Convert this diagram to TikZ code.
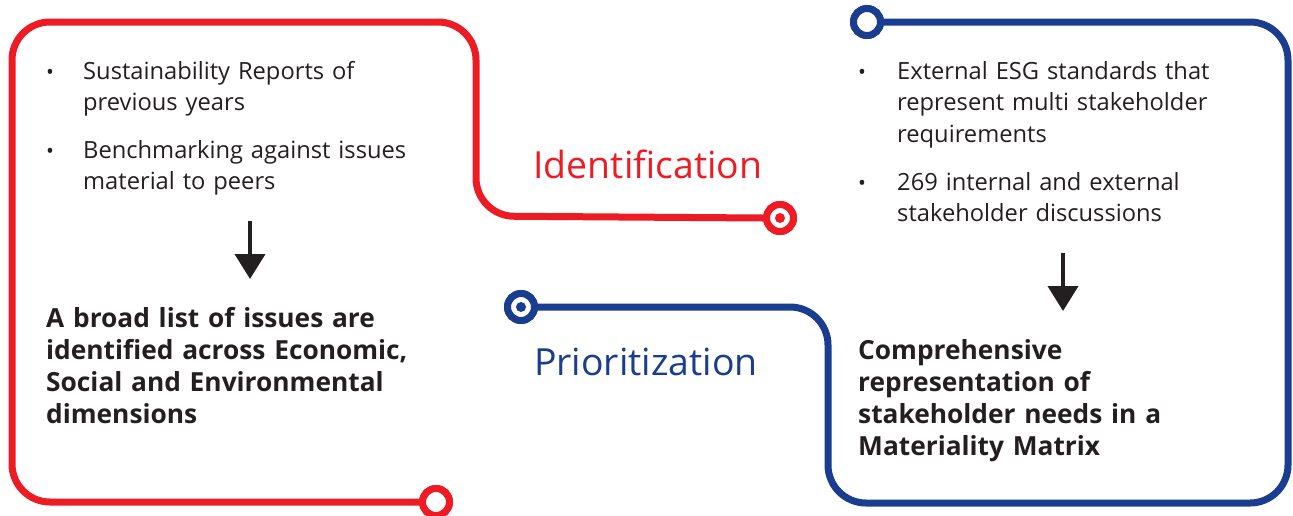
\documentclass[tikz,border=0pt]{standalone}
\usepackage{fontspec}
\setmainfont{Open Sans}
\usetikzlibrary{arrows.meta}
\definecolor{cred}{HTML}{ED1C24}
\definecolor{cblue}{HTML}{1A3D8F}
\definecolor{ctext}{HTML}{231F20}
\begin{document}
\begin{tikzpicture}[x=1pt,y=-1pt,
  redline/.style={draw=cred,line width=7pt,rounded corners=38pt},
  blueline/.style={draw=cblue,line width=7pt,rounded corners=38pt},
  ring/.style={circle,draw,line width=7pt,minimum size=27pt,inner sep=0pt,fill=white},
  body/.style={anchor=base west,inner sep=0pt,text width=420pt,align=left,text=ctext,font=\fontsize{23.7}{31.5}\selectfont},
  bodyb/.style={anchor=base west,inner sep=0pt,text width=420pt,align=left,text=ctext,font=\fontsize{26.3}{32}\selectfont\bfseries},
  bul/.style={anchor=base,inner sep=0pt,text=ctext,font=\fontsize{21}{31.5}\selectfont},
  title/.style={anchor=base,inner sep=0pt,font=\fontsize{37.4}{44}\selectfont},
  downarrow/.style={draw=ctext,line width=4pt,-{Triangle[width=30pt,length=25pt]}}
]
\useasboundingbox (0,0) rectangle (1293,515);

% circles
\node[ring,draw=cred] (rs) at (436,502) {};
\node[ring,draw=cred] (re) at (780,218) {};
\node[ring,draw=cblue] (bs) at (521,307) {};
\node[ring,draw=cblue] (be) at (867,22) {};

% paths
\draw[redline] (rs.west) -| (12,22) -| (476,216) -- (re.west);
\draw[blueline] (bs.east) -| (828,503) -| (1288,22) -- (be.east);

% redraw rings on top
\node[ring,draw=cred] at (rs) {};
\node[ring,draw=cred] at (re) {};
\node[ring,draw=cblue] at (bs) {};
\node[ring,draw=cblue] at (be) {};
\fill[cred] (re) circle (5pt);
\fill[cblue] (bs) circle (5pt);

% titles
\node[title,text=cred] (tid) at (648,178) {Identification};
\node[title,text=cblue] (tpr) at (646,375) {Prioritization};

% left text
\node[bul] (lb1) at (50,79) {•};
\node[body] (lt1) at (83,79) {Sustainability Reports of\\previous years};
\node[bul] (lb2) at (50,158) {•};
\node[body] (lt2) at (83,158) {Benchmarking against issues\\material to peers};
\coordinate (la1) at (250,221);
\coordinate (la2) at (250,279);
\draw[downarrow] (la1) -- (la2);
\node[bodyb] (lres) at (46,327) {A broad list of issues are\\identified across Economic,\\Social and Environmental\\dimensions};

% right text
\node[bul] (rb1) at (862,79) {•};
\node[body] (rt1) at (897,79) {External ESG standards that\\represent multi stakeholder\\requirements};
\node[bul] (rb2) at (862,190) {•};
\node[body] (rt2) at (897,190) {269 internal and external\\stakeholder discussions};
\coordinate (ra1) at (1063,253);
\coordinate (ra2) at (1063,311);
\draw[downarrow] (ra1) -- (ra2);
\node[bodyb] (rres) at (858,359) {Comprehensive\\representation of\\stakeholder needs in a\\Materiality Matrix};
\end{tikzpicture}
\end{document}
